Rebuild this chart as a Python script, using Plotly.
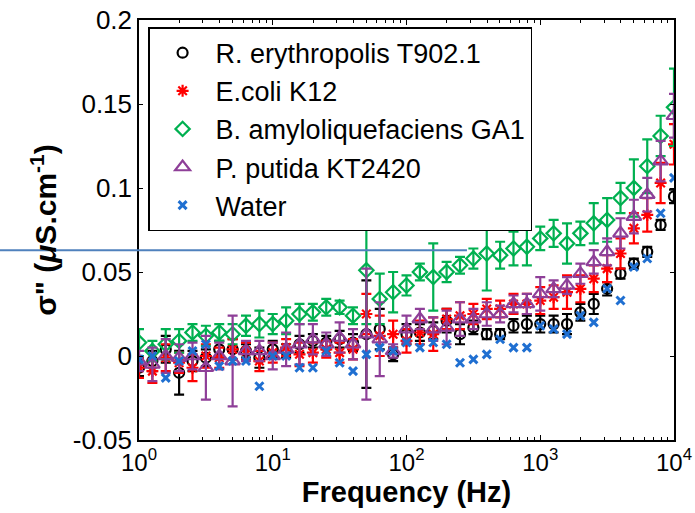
import plotly.graph_objects as go

# frequencies: 10 points per decade, 1 Hz .. 10 kHz
freq = [10 ** (k / 10) for k in range(41)]

r_ery = [-0.007, -0.003, 0.004, -0.010, -0.003, -0.001, 0.004, 0.004, 0.003, -0.001,
         0.004, 0.003, 0.007, 0.009, 0.008, 0.010, 0.008, 0.013, 0.016, 0.001,
         0.013, 0.014, 0.015, 0.021, 0.013, 0.017, 0.013, 0.013, 0.018, 0.019,
         0.019, 0.019, 0.019, 0.026, 0.031, 0.040, 0.049, 0.055, 0.062, 0.078, 0.095]
r_ery_err = [0.005, 0.006, 0.008, 0.013, 0.006, 0.005, 0.005, 0.006, 0.004, 0.006,
             0.005, 0.004, 0.005, 0.004, 0.004, 0.005, 0.005, 0.032, 0.012, 0.004,
             0.006, 0.005, 0.005, 0.007, 0.006, 0.004, 0.003, 0.003, 0.004, 0.005,
             0.005, 0.005, 0.006, 0.005, 0.006, 0.004, 0.003, 0.003, 0.003, 0.003, 0.004]

e_coli = [-0.007, -0.009, -0.001, -0.004, -0.007, 0.000, -0.001, 0.004, 0.003, -0.003,
          0.002, 0.005, 0.001, 0.002, 0.004, 0.002, 0.004, 0.025, 0.012, 0.013,
          0.009, 0.014, 0.013, 0.022, 0.024, 0.025, 0.028, 0.028, 0.031, 0.031,
          0.033, 0.035, 0.038, 0.040, 0.046, 0.052, 0.061, 0.076, 0.084, 0.103, 0.126]
e_coli_err = [0.006, 0.007, 0.008, 0.006, 0.008, 0.007, 0.006, 0.006, 0.005, 0.006,
              0.006, 0.005, 0.007, 0.006, 0.005, 0.006, 0.006, 0.012, 0.012, 0.008,
              0.007, 0.007, 0.010, 0.006, 0.008, 0.006, 0.006, 0.005, 0.006, 0.006,
              0.008, 0.007, 0.010, 0.008, 0.008, 0.008, 0.009, 0.009, 0.010, 0.012, 0.012]

b_amylo = [0.008, 0.003, 0.007, 0.009, 0.014, 0.012, 0.014, 0.013, 0.018, 0.019,
           0.019, 0.021, 0.025, 0.026, 0.029, 0.029, 0.024, 0.051, 0.034, 0.038,
           0.042, 0.050, 0.047, 0.050, 0.054, 0.058, 0.061, 0.060, 0.064, 0.065,
           0.070, 0.073, 0.067, 0.073, 0.079, 0.081, 0.094, 0.100, 0.113, 0.131, 0.148]
b_amylo_err = [0.008, 0.006, 0.009, 0.007, 0.005, 0.006, 0.005, 0.006, 0.006, 0.008,
               0.006, 0.008, 0.006, 0.005, 0.005, 0.004, 0.005, 0.032, 0.015, 0.012,
               0.006, 0.005, 0.020, 0.006, 0.005, 0.006, 0.022, 0.008, 0.010, 0.011,
               0.007, 0.008, 0.012, 0.007, 0.012, 0.013, 0.009, 0.017, 0.016, 0.012, 0.023]

p_putida = [-0.003, -0.005, 0.000, -0.001, 0.000, -0.007, 0.000, -0.003, 0.003, 0.003,
            0.000, 0.004, 0.007, 0.010, 0.007, 0.011, 0.007, 0.013, 0.010, 0.003,
            0.016, 0.022, 0.016, 0.017, 0.022, 0.022, 0.025, 0.025, 0.031, 0.031,
            0.037, 0.040, 0.042, 0.049, 0.056, 0.062, 0.073, 0.083, 0.096, 0.116, 0.143]
p_putida_err = [0.006, 0.010, 0.010, 0.008, 0.008, 0.019, 0.008, 0.027, 0.006, 0.006,
                0.008, 0.010, 0.012, 0.009, 0.007, 0.009, 0.009, 0.039, 0.022, 0.004,
                0.008, 0.006, 0.007, 0.010, 0.010, 0.006, 0.007, 0.005, 0.005, 0.006,
                0.010, 0.005, 0.005, 0.006, 0.007, 0.008, 0.009, 0.010, 0.010, 0.012, 0.013]

water = [-0.002, 0.000, -0.013, -0.003, 0.003, 0.007, -0.006, -0.003, -0.003, -0.018,
         0.000, 0.000, -0.007, -0.007, 0.003, -0.004, -0.009, 0.001, 0.005, 0.003,
         0.008, 0.005, 0.008, 0.007, -0.004, -0.002, 0.001, 0.010, 0.005, 0.005,
         0.018, 0.016, 0.013, 0.024, 0.020, 0.040, 0.033, 0.053, 0.058, 0.085, 0.106]

y_ticks = [-0.05, 0, 0.05, 0.1, 0.15, 0.2]
y_ticktext = ['-0.05', '0', '0.05', '0.1', '0.15', '0.2']
x_ticks = [1, 10, 100, 1000, 10000]
x_ticktext = ['10<sup>0</sup>', '10<sup>1</sup>', '10<sup>2</sup>', '10<sup>3</sup>', '10<sup>4</sup>']

font = 'Liberation Sans, Arial, Helvetica, sans-serif'

series = [
    ('R. erythropolis T902.1', r_ery, r_ery_err, 'black', 'circle-open', 10),
    ('E.coli K12', e_coli, e_coli_err, '#ff0000', 'asterisk-open', 10),
    ('B. amyloliquefaciens GA1', b_amylo, b_amylo_err, '#00b050', 'diamond-open', 11),
    ('P. putida KT2420', p_putida, p_putida_err, '#8e3f98', 'triangle-up-open', 13),
]

fig = go.Figure()
for name, vals, errs, col, sym, size in series:
    fig.add_scatter(x=freq, y=vals, name=name, mode='markers',
                    marker=dict(symbol=sym, size=size, color=col, line=dict(color=col, width=2.2)),
                    error_y=dict(type='data', array=errs, visible=True, color=col, thickness=2.2, width=5))
fig.add_scatter(x=freq, y=water, name='Water', mode='markers',
                marker=dict(symbol='x-thin-open', size=8, color='#1f6fd1', line=dict(color='#1f6fd1', width=3)))

axis_common = dict(showline=True, linecolor='black', linewidth=1.5, mirror='allticks',
                   ticks='inside', tickcolor='black', tickwidth=1, showgrid=False, zeroline=False,
                   automargin=False, ticklabeloverflow='allow')

fig.update_xaxes(type='log', range=[0, 4], tickvals=x_ticks, ticktext=x_ticktext, ticklen=5,
                 tickfont=dict(family=font, size=24, color='black'),
                 minor=dict(ticks='inside', ticklen=3, dtick='D1', tickcolor='black', showgrid=False),
                 title=dict(text='<b>Frequency (Hz)</b>', font=dict(family=font, size=29, color='black'), standoff=0),
                 **axis_common)
fig.update_yaxes(range=[-0.05, 0.2], tickvals=y_ticks, ticktext=y_ticktext, ticklen=4,
                 tickfont=dict(family=font, size=26, color='black'),
                 title=dict(text='<b>σ" (<i>μ</i>S.cm<sup>-1</sup>)</b>', font=dict(family=font, size=30, color='black'), standoff=7),
                 **axis_common)

# stray horizontal line present in the original figure
fig.add_shape(type='line', xref='paper', yref='paper', x0=-0.26, x1=0.613, y0=0.452, y1=0.452,
              line=dict(color='#4f81bd', width=2), layer='above')

fig.update_layout(
    width=695, height=513,
    margin=dict(l=139, r=21, t=20, b=73),
    paper_bgcolor='white', plot_bgcolor='white',
    font=dict(family=font, color='black'),
    legend=dict(x=0.017, y=0.983, xanchor='left', yanchor='top',
                bgcolor='white', bordercolor='black', borderwidth=1.5,
                font=dict(family=font, size=27, color='black'), itemwidth=56,
                tracegroupgap=0),
)

# drop the browser's default body margin so the figure fills the window exactly
fig.write_html('out.html', config={'displayModeBar': False},
               post_script="document.body.style.margin='0';")
